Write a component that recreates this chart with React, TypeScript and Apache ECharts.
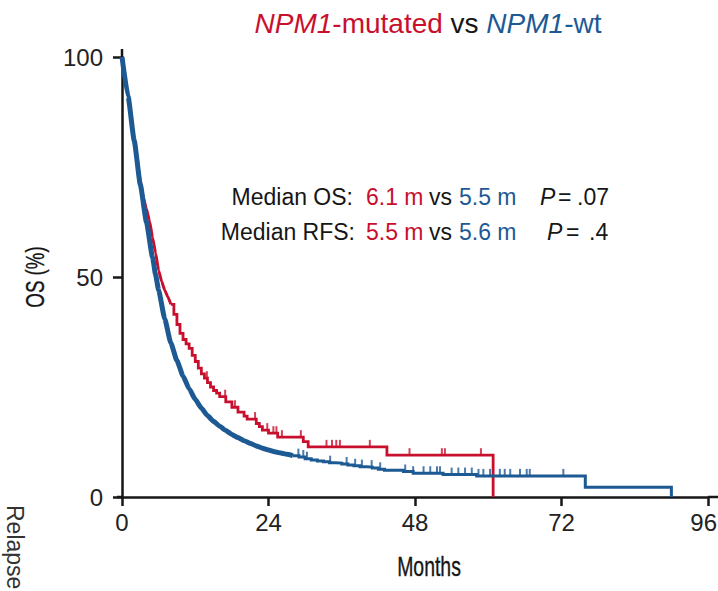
import { useEffect, useRef } from 'react';
import * as echarts from 'echarts';

// ---- data ----
const xTicks = [0, 24, 48, 72, 96];
const yTicks = [0, 50, 100];

// Kaplan-Meier steps [month, OS %] — NPM1-mutated
const mutatedCurve: [number, number][] = [
  [0, 100], [1, 91], [2, 81.5], [3, 72], [3.5, 68], [4, 65.5], [4.5, 62.8], [5, 59],
  [5.5, 55.5], [6, 51.5], [6.5, 49], [7, 47], [7.5, 45.5], [8, 43.8], [8.5, 41.5], [9, 39.2],
  [9.5, 37.2], [10, 35.8], [10.5, 34.8], [11, 33.8], [11.5, 32.2], [12, 30.8], [12.5, 29.3],
  [13, 28], [13.5, 27], [14, 26], [14.5, 25], [15, 24.2], [15.5, 23.6], [16, 22.8], [17, 21.6],
  [18, 20.4], [19, 19.3], [20, 18.4], [20.5, 17.7], [22, 16.7], [22.5, 16], [23, 15.2],
  [24, 14.5], [25.5, 13.6], [29.7, 12.6], [30.5, 11.4], [43.4, 9.5], [60.8, 0],
];
// NPM1-wt
const wtCurve: [number, number][] = [
  [0, 100], [1, 91], [2, 81], [3, 71], [4, 62.5], [5, 54.5], [5.5, 50.5], [6, 47], [7, 40.5],
  [8, 35], [9, 31], [10, 27.5], [11, 24.6], [12, 22.2], [13, 20.2], [14, 18.5], [15, 17.2],
  [16, 16.1], [17, 15.1], [18, 14.2], [19, 13.5], [20, 12.8], [21, 12.2], [22, 11.6],
  [23, 11.1], [24, 10.7], [25, 10.3], [26, 10], [27, 9.7], [28, 9.4], [29, 9.1], [30, 8.7],
  [31, 8.4], [32, 8.2], [33, 8], [34, 7.8], [35, 7.7], [36, 7.5], [37, 7.3], [38, 7.1],
  [39, 6.9], [40, 6.8], [41, 6.6], [42, 6.3], [43, 6.1], [46.1, 5.8], [47.7, 5.4], [52.6, 5.1],
  [58.1, 4.8], [75.9, 2.2], [90, 0],
];
// censored observations (months)
const mutatedCensor = [13.9, 16.9, 18.5, 21.8, 23.8, 24.8, 25.3, 26.2, 29.3, 33.5, 34.4, 35.1, 35.7, 40.6, 47.1, 52.4, 52.9, 58.8];
const wtCensor = [28.9, 29.7, 30.3, 34.1, 36.8, 38.2, 39.3, 40.9, 42.3, 46.4, 47.7, 49.4, 50.5, 51.6, 52.1, 54.0, 55.1, 56.2, 57.3, 58.4, 59.2, 60.3, 61.9, 62.7, 63.6, 65.2, 66.3, 66.8, 72.3];
// up to these months the many small steps merge into one continuous line
const mutatedDenseUntil = 8;
const wtDenseUntil = 28;

const RED = '#c8102e';
const BLUE = '#1d5a94';
const INK = '#161616';
const SANS = "'Liberation Sans', Arial, Helvetica, sans-serif";

function survivalAt(curve: [number, number][], t: number) {
  let s = curve[0][1];
  for (const [m, v] of curve) {
    if (m <= t) s = v;
    else break;
  }
  return s;
}

function splitCurve(curve: [number, number][], until: number) {
  const idx = curve.findIndex((p) => p[0] >= until);
  return [curve.slice(0, idx + 1), curve.slice(idx)];
}

const G = { left: 122, top: 57, right: 10, bottom: 94 };
const W = 718;
const H = 591;
const X_LABEL_MARGIN = 13;
const TICK_FONT = 24;

export default function App() {
  const ref = useRef<HTMLDivElement>(null);
  useEffect(() => {
    document.body.style.margin = '0';
    const chart = echarts.init(ref.current!, undefined, { renderer: 'svg' });
    const [mutDense, mutSteps] = splitCurve(mutatedCurve, mutatedDenseUntil);
    const [wtDense, wtSteps] = splitCurve(wtCurve, wtDenseUntil);
    const axisBottom = H - G.bottom;
    const axisRight = W - G.right;
    const lastX = xTicks[xTicks.length - 1];

    const lineSeries = (data: [number, number][], color: string, width: number, z: number, stepped: boolean) => ({
      type: 'line',
      data,
      step: stepped ? 'end' : false,
      smooth: stepped ? false : 0.15,
      smoothMonotone: 'x',
      symbol: 'none',
      showSymbol: false,
      clip: false,
      z,
      lineStyle: { color, width, join: 'miter' },
    });
    const censorSeries = (times: number[], curve: [number, number][], color: string, z: number) => ({
      type: 'scatter',
      data: times.map((t) => [t, survivalAt(curve, t)]),
      symbol: 'rect',
      symbolSize: [2, 7],
      symbolOffset: [0, '-50%'],
      itemStyle: { color },
      clip: false,
      z,
    });

    const text = (x: number, y: number, t: string, fill: string, align = 'left', extra: any = {}) => ({
      type: 'text',
      x,
      y,
      style: { text: t, fill, fontSize: 23, fontFamily: SANS, align, verticalAlign: 'middle', ...extra },
    });

    chart.setOption({
      animation: false,
      backgroundColor: '#ffffff',
      grid: { left: G.left, top: G.top, right: G.right, bottom: G.bottom, outerBoundsMode: 'none', containLabel: false },
      xAxis: {
        type: 'value',
        min: xTicks[0],
        max: lastX,
        interval: xTicks[1] - xTicks[0],
        splitLine: { show: false },
        axisLine: { lineStyle: { color: INK, width: 2.5 } },
        axisTick: { length: 9, lineStyle: { color: INK, width: 2.5 } },
        axisLabel: {
          fontSize: TICK_FONT,
          fontFamily: SANS,
          color: '#222',
          margin: X_LABEL_MARGIN,
          // the last label sits at the page edge; it is drawn below, kept inside the page
          formatter: (v: number) => (v === lastX ? '' : String(v)),
        },
      },
      yAxis: {
        type: 'value',
        min: yTicks[0],
        max: yTicks[yTicks.length - 1],
        interval: yTicks[1] - yTicks[0],
        splitLine: { show: false },
        axisLine: { lineStyle: { color: INK, width: 2.5 } },
        axisTick: { length: 9, lineStyle: { color: INK, width: 2.5 } },
        axisLabel: { fontSize: TICK_FONT, fontFamily: SANS, color: '#222', margin: 19 },
      },
      series: [
        lineSeries(mutDense, RED, 3, 2, false),
        lineSeries(mutSteps, RED, 2.8, 2, true),
        censorSeries(mutatedCensor, mutatedCurve, RED, 3),
        lineSeries(wtDense, BLUE, 5, 4, false),
        lineSeries(wtSteps, BLUE, 3, 4, true),
        censorSeries(wtCensor, wtCurve, BLUE, 5),
      ],
      graphic: [
        // axis line extensions
        { type: 'line', shape: { x1: G.left - 5, y1: axisBottom, x2: G.left, y2: axisBottom }, style: { stroke: INK, lineWidth: 2.5 } },
        { type: 'line', shape: { x1: axisRight, y1: axisBottom, x2: W, y2: axisBottom }, style: { stroke: INK, lineWidth: 2.5 } },
        { type: 'line', shape: { x1: G.left, y1: G.top - 8, x2: G.left, y2: G.top }, style: { stroke: INK, lineWidth: 2.5 } },
        // last x tick label, right-aligned to the page edge
        {
          type: 'text',
          x: W - 1,
          y: axisBottom + X_LABEL_MARGIN,
          style: { text: String(lastX), fill: '#222', fontSize: TICK_FONT, fontFamily: SANS, align: 'right', verticalAlign: 'top' },
        },
        // title
        {
          type: 'text',
          x: 428,
          y: 23,
          style: {
            text: '{ri|NPM1}{r|-mutated}{k| vs }{bi|NPM1}{b|-wt}',
            align: 'center',
            verticalAlign: 'middle',
            fontSize: 28,
            fontFamily: SANS,
            rich: {
              ri: { fill: RED, fontStyle: 'italic', fontSize: 28, fontFamily: SANS },
              r: { fill: RED, fontSize: 28, fontFamily: SANS },
              k: { fill: INK, fontSize: 28, fontFamily: SANS },
              bi: { fill: BLUE, fontStyle: 'italic', fontSize: 28, fontFamily: SANS },
              b: { fill: BLUE, fontSize: 28, fontFamily: SANS },
            },
          },
        },
        // medians
        text(353, 197, 'Median OS:', INK, 'right'),
        text(366, 197, '6.1 m', RED),
        text(429, 197, 'vs', INK),
        text(459, 197, '5.5 m', BLUE),
        text(540, 197, 'P', INK, 'left', { fontStyle: 'italic' }),
        text(558, 197, '=', INK),
        text(577, 197, '.07', INK),
        text(355, 232, 'Median RFS:', INK, 'right'),
        text(366, 232, '5.5 m', RED),
        text(429, 232, 'vs', INK),
        text(459, 232, '5.6 m', BLUE),
        text(547, 232, 'P', INK, 'left', { fontStyle: 'italic' }),
        text(566, 232, '=', INK),
        text(589, 232, '.4', INK),
        // axis names (condensed, slightly heavy type)
        { type: 'text', x: 429, y: 567, scaleX: 0.72, style: { text: 'Months', fill: INK, stroke: INK, lineWidth: 0.35, fontSize: 27, fontFamily: SANS, align: 'center', verticalAlign: 'middle' } },
        { type: 'text', x: 35, y: 277, rotation: Math.PI / 2, scaleX: 0.72, style: { text: 'OS (%)', fill: INK, stroke: INK, lineWidth: 0.35, fontSize: 26, fontFamily: SANS, align: 'center', verticalAlign: 'middle' } },
        { type: 'text', x: 15, y: 505, rotation: -Math.PI / 2, style: { text: 'Relapse', fill: '#333', fontSize: 23, fontFamily: SANS, align: 'left', verticalAlign: 'middle' } },
      ],
    });
    return () => chart.dispose();
  }, []);
  return <div ref={ref} style={{ position: 'fixed', left: 0, top: 0, width: W, height: H }} />;
}
